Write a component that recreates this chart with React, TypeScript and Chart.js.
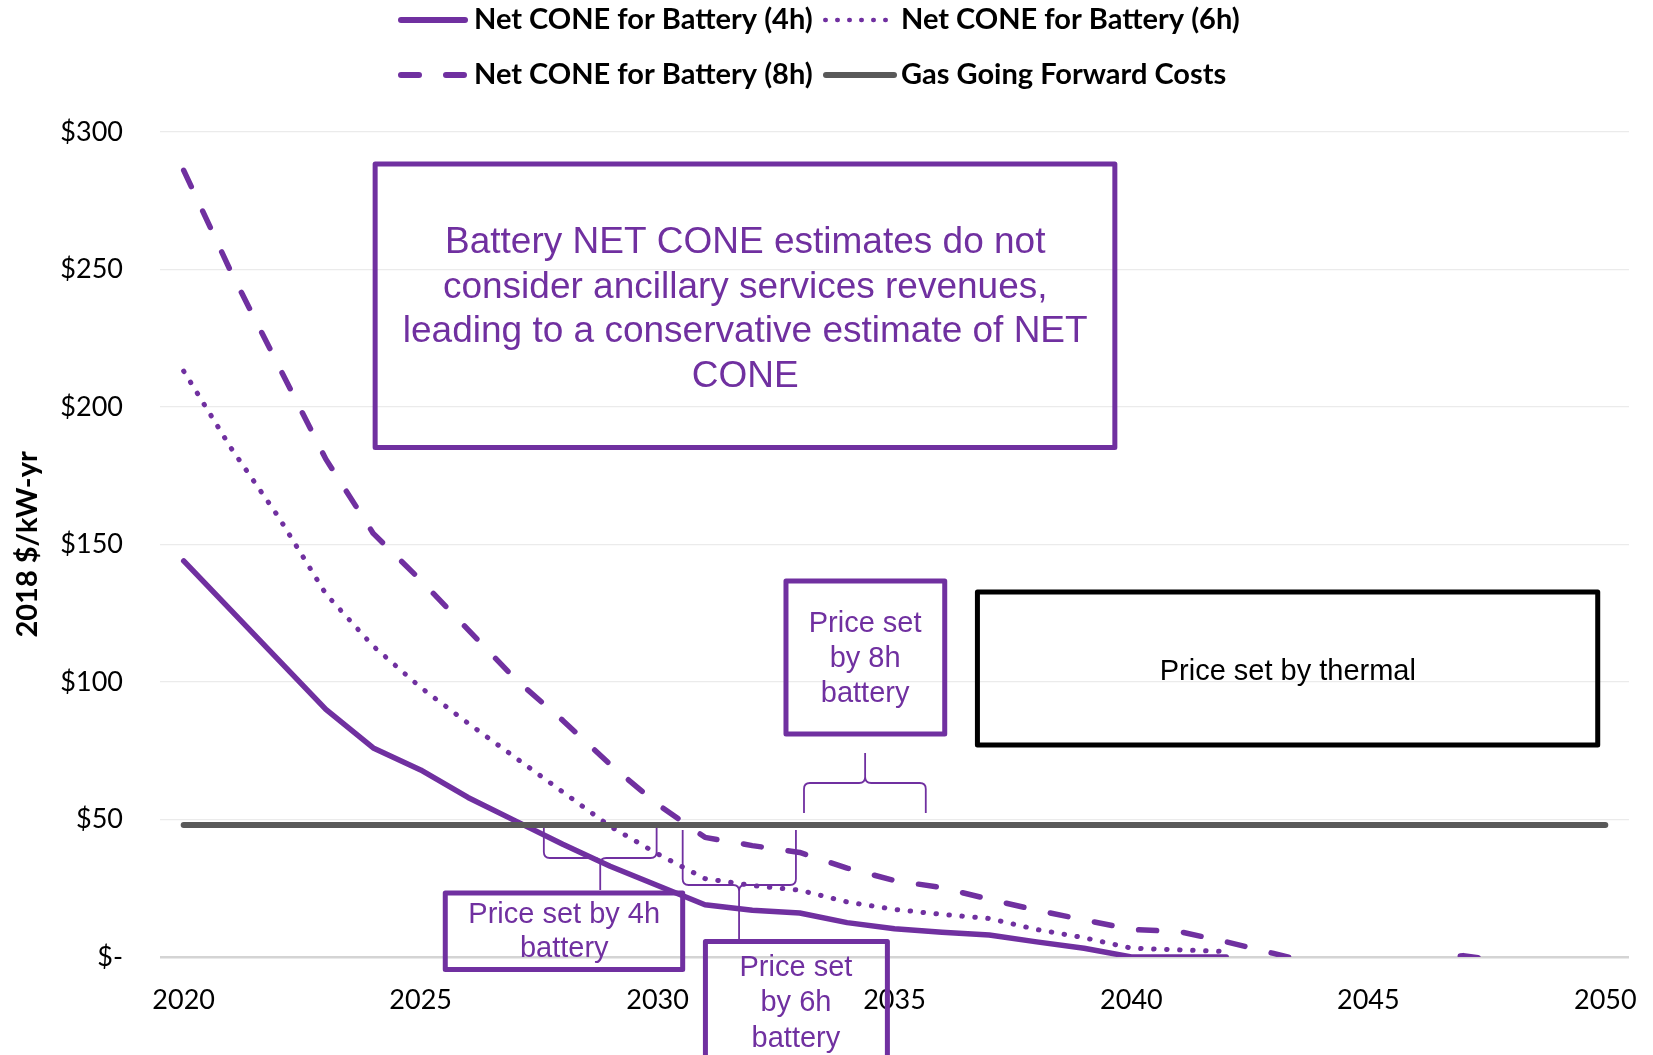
import React, { useEffect, useRef } from 'react';
import { Chart, registerables } from 'chart.js';

Chart.register(...registerables);

// ---------- data ----------
const YEARS = [
  '2020', '2021', '2022', '2023', '2024', '2025', '2026', '2027', '2028', '2029',
  '2030', '2031', '2032', '2033', '2034', '2035', '2036', '2037', '2038', '2039',
  '2040', '2041', '2042', '2043', '2044', '2045', '2046', '2047', '2048', '2049', '2050',
];

const NET_CONE_4H = [
  144, 126, 108, 90, 76, 68, 58, 49.5, 41, 33,
  26, 19, 17, 16, 12.5, 10.3, 9, 8, 5.5, 3.2,
  0, 0, 0, null, null, null, null, null, null, null, null,
];

const NET_CONE_6H = [
  213, 185, 160, 132, 113, 98, 85, 72.5, 60, 47.5,
  37.5, 28.5, 26, 24.3, 20, 17.3, 15.5, 14, 10, 7,
  3.2, 2.6, 2, null, null, null, null, null, null, null, null,
];

const NET_CONE_8H = [
  286, 249, 215, 181, 154, 137, 119, 101, 86, 70,
  55.5, 43.5, 40.5, 38, 32.3, 27.8, 25.2, 21, 17, 13.5,
  10, 9.3, 5.5, 1.3, -3, null, -2, 0.5, -2, null, null,
];

const GAS_GOING_FORWARD = [
  48, 48, 48, 48, 48, 48, 48, 48, 48, 48,
  48, 48, 48, 48, 48, 48, 48, 48, 48, 48,
  48, 48, 48, 48, 48, 48, 48, 48, 48, 48, 48,
];

const SERIES_LABELS = [
  'Net CONE for Battery (4h)',
  'Net CONE for Battery (6h)',
  'Net CONE for Battery (8h)',
  'Gas Going Forward Costs',
];

const Y_AXIS_TITLE = '2018 $/kW-yr';

const BIG_NOTE = [
  'Battery NET CONE estimates do not',
  'consider ancillary services revenues,',
  'leading to a conservative estimate of NET',
  'CONE',
];
const NOTE_8H = ['Price set', 'by 8h', 'battery'];
const NOTE_6H = ['Price set', 'by 6h', 'battery'];
const NOTE_4H = ['Price set by 4h', 'battery'];
const NOTE_THERMAL = ['Price set by thermal'];

// ---------- styles / layout ----------
const PURPLE = '#7030A0';
const GAS_GREY = '#595959';
const BASE_YEAR = 2020;

// boxes placed in data units (year, $/kW-yr)
const NOTE_BOXES = [
  { x1: 2024.04, x2: 2039.65, y1: 288.3, y2: 185.2, color: PURPLE, text: BIG_NOTE, size: 37, cx: 2031.85, base: 255.93, gap: 44.5 },
  { x1: 2032.71, x2: 2036.06, y1: 136.7, y2: 81.07, color: PURPLE, text: NOTE_8H, size: 29, cx: 2034.38, base: 118.26, gap: 35 },
  { x1: 2036.75, x2: 2049.84, y1: 132.7, y2: 77.07, color: '#000000', text: NOTE_THERMAL, size: 29, cx: 2043.3, base: 100.7, gap: 35 },
  { x1: 2025.52, x2: 2030.53, y1: 23.27, y2: -4.54, color: PURPLE, text: NOTE_4H, size: 29, cx: 2028.03, base: 12.18, gap: 34 },
  { x1: 2031.01, x2: 2034.85, y1: 5.63, y2: -45, color: PURPLE, text: NOTE_6H, size: 29, cx: 2032.92, base: -6.73, gap: 35.5 },
];

const BRACES = [
  { x1: 2033.09, x2: 2035.66, xt: 2034.38, yEnd: 52.35, yBar: 63.26, yTip: 74.16 },
  { x1: 2027.6, x2: 2029.98, xt: 2028.79, yEnd: 46.9, yBar: 35.99, yTip: 24.36 },
  { x1: 2030.53, x2: 2032.92, xt: 2031.72, yEnd: 46.17, yBar: 26.18, yTip: 6.54 },
];

// legend in canvas pixels
const LEGEND_ITEMS = [
  { ds: 0, x1: 398, x2: 468, y: 20, lw: 6, dash: [] as number[], tx: 474, ty: 20 },
  { ds: 1, x1: 823, x2: 893, y: 20, lw: 4.5, dash: [0.5, 11.5], tx: 901, ty: 20 },
  { ds: 2, x1: 398, x2: 468, y: 75, lw: 6, dash: [18, 27], tx: 474, ty: 75 },
  { ds: 3, x1: 823, x2: 897, y: 75, lw: 6, dash: [] as number[], tx: 901, ty: 75 },
];

const legendPlugin = {
  id: 'customLegend',
  afterDraw(chart: any) {
    const ctx = chart.ctx as CanvasRenderingContext2D;
    LEGEND_ITEMS.forEach((it) => {
      const ds = chart.data.datasets[it.ds];
      ctx.save();
      ctx.strokeStyle = ds.borderColor;
      ctx.lineWidth = it.lw;
      ctx.lineCap = 'round';
      ctx.setLineDash(it.dash);
      ctx.beginPath();
      ctx.moveTo(it.x1 + it.lw / 2, it.y);
      ctx.lineTo(it.x2 - it.lw / 2, it.y);
      ctx.stroke();
      ctx.setLineDash([]);
      ctx.fillStyle = '#000000';
      ctx.font = 'bold 29px Lato';
      ctx.textAlign = 'left';
      ctx.textBaseline = 'middle';
      ctx.fillText(ds.label, it.tx, it.ty);
      ctx.restore();
    });
  },
};

const notesPlugin = {
  id: 'notes',
  afterDraw(chart: any) {
    const ctx = chart.ctx as CanvasRenderingContext2D;
    const xs = chart.scales.x;
    const ys = chart.scales.y;
    const px = (yr: number) => xs.getPixelForValue(yr - BASE_YEAR);
    const py = (v: number) => ys.getPixelForValue(v);

    // boxes
    NOTE_BOXES.forEach((b) => {
      ctx.save();
      ctx.strokeStyle = b.color;
      ctx.lineWidth = 5;
      ctx.lineJoin = 'round';
      const l = px(b.x1), r = px(b.x2), t = py(b.y1), btm = py(b.y2);
      ctx.strokeRect(l, t, r - l, btm - t);
      ctx.fillStyle = b.color;
      ctx.font = `${b.size}px "Liberation Sans", Arial, sans-serif`;
      ctx.textAlign = 'center';
      ctx.textBaseline = 'alphabetic';
      const cx = px(b.cx);
      const y0 = py(b.base);
      b.text.forEach((line, i) => ctx.fillText(line, cx, y0 + i * b.gap));
      ctx.restore();
    });

    // braces
    BRACES.forEach((br) => {
      const x1 = px(br.x1), x2 = px(br.x2), xt = px(br.xt);
      const yE = py(br.yEnd), yB = py(br.yBar), yT = py(br.yTip);
      const s = Math.sign(yB - yE);
      const r = 6;
      ctx.save();
      ctx.strokeStyle = PURPLE;
      ctx.lineWidth = 1.8;
      ctx.beginPath();
      ctx.moveTo(x1, yE);
      ctx.lineTo(x1, yB - s * r);
      ctx.quadraticCurveTo(x1, yB, x1 + r, yB);
      ctx.lineTo(xt - r, yB);
      ctx.quadraticCurveTo(xt, yB, xt, yB + s * r);
      ctx.lineTo(xt, yT);
      ctx.moveTo(x2, yE);
      ctx.lineTo(x2, yB - s * r);
      ctx.quadraticCurveTo(x2, yB, x2 - r, yB);
      ctx.lineTo(xt + r, yB);
      ctx.quadraticCurveTo(xt, yB, xt, yB + s * r);
      ctx.stroke();
      ctx.restore();
    });
  },
};

export default function App() {
  const canvasRef = useRef<HTMLCanvasElement | null>(null);

  useEffect(() => {
    const canvas = canvasRef.current;
    if (!canvas) return;
    const lineBase = {
      pointRadius: 0,
      pointHoverRadius: 0,
      tension: 0,
      borderCapStyle: 'round' as const,
      borderJoinStyle: 'round' as const,
      spanGaps: false,
      fill: false,
    };
    const chart = new Chart(canvas, {
      type: 'line',
      data: {
        labels: YEARS,
        datasets: [
          { ...lineBase, label: SERIES_LABELS[0], data: NET_CONE_4H, borderColor: PURPLE, borderWidth: 5.5, order: 4 },
          { ...lineBase, label: SERIES_LABELS[1], data: NET_CONE_6H, borderColor: PURPLE, borderWidth: 5, borderDash: [0.5, 12.5], order: 3 },
          { ...lineBase, label: SERIES_LABELS[2], data: NET_CONE_8H, borderColor: PURPLE, borderWidth: 5.5, borderDash: [18, 27], order: 2 },
          { ...lineBase, label: SERIES_LABELS[3], data: GAS_GOING_FORWARD, borderColor: GAS_GREY, borderWidth: 6, order: 1 },
        ],
      },
      options: {
        responsive: false,
        animation: false,
        devicePixelRatio: 1,
        layout: { padding: { left: 0, right: 24, top: 131.8, bottom: 0 } },
        plugins: {
          legend: { display: false },
          tooltip: { enabled: false },
        },
        scales: {
          x: {
            type: 'category',
            offset: true,
            grid: { display: false, drawTicks: false },
            border: { display: false },
            ticks: {
              autoSkip: false,
              maxRotation: 0,
              minRotation: 0,
              padding: 27,
              color: '#000000',
              font: { family: 'Lato', size: 27 },
              callback: (_v: any, i: number) => (Number(YEARS[i]) % 5 === 0 ? YEARS[i] : ''),
            },
            afterFit: (s: any) => {
              s.height = 98;
              s.paddingLeft = 0;
              s.paddingRight = 0;
            },
          },
          y: {
            min: 0,
            max: 300,
            border: { display: false },
            grid: {
              drawTicks: false,
              color: (c: any) => (c.tick && c.tick.value === 0 ? '#D4D4D4' : '#EBEBEB'),
              lineWidth: (c: any) => (c.tick && c.tick.value === 0 ? 2.5 : 1.3),
            },
            ticks: {
              stepSize: 50,
              padding: 37,
              color: '#000000',
              font: { family: 'Lato', size: 27 },
              callback: (v: any) => (Number(v) === 0 ? '$-' : '$' + v),
            },
            title: {
              display: true,
              text: Y_AXIS_TITLE,
              color: '#000000',
              font: { family: 'Lato', size: 29, weight: 'bold' },
              padding: { top: 10, bottom: 0 },
            },
            afterFit: (s: any) => {
              s.width = 160;
            },
          },
        },
      },
      plugins: [legendPlugin, notesPlugin],
    } as any);
    return () => chart.destroy();
  }, []);

  return (
    <div style={{ position: 'fixed', left: 0, top: 0, width: 1653, height: 1055, background: '#ffffff', overflow: 'hidden' }}>
      <canvas ref={canvasRef} width={1653} height={1055} style={{ display: 'block', width: 1653, height: 1055 }} />
    </div>
  );
}
